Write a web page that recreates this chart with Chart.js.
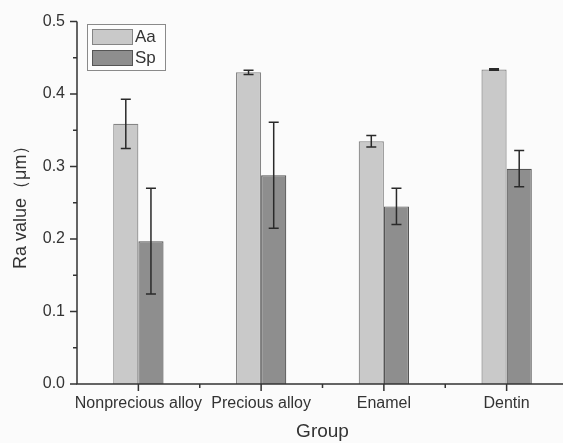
<!DOCTYPE html>
<html>
<head>
<meta charset="utf-8">
<script src="https://cdn.jsdelivr.net/npm/chart.js@4"></script>
<style>
html,body{margin:0;padding:0;background:#fbfbfb;overflow:hidden;}
#wrap{position:relative;width:570px;height:443px;}
</style>
</head>
<body>
<div id="wrap"><canvas id="c" width="570" height="443"></canvas></div>
<script>
const categories = ["Nonprecious alloy", "Precious alloy", "Enamel", "Dentin"];
const seriesNames = ["Aa", "Sp"];
const aaValues = [0.359, 0.430, 0.335, 0.434];
const aaErrors = [0.034, 0.003, 0.008, 0.001];
const spValues = [0.197, 0.288, 0.245, 0.297];
const spErrors = [0.073, 0.073, 0.025, 0.025];
const yTicks = [0.0, 0.1, 0.2, 0.3, 0.4, 0.5];

const axisColor = '#333333';
const fontFam = '"Liberation Sans", Arial, sans-serif';

const errorBarPlugin = {
  id: 'errorBars',
  afterDatasetsDraw(chart) {
    const ctx = chart.ctx;
    const y = chart.scales.y;
    ctx.save();
    ctx.strokeStyle = '#2a2a2a';
    ctx.lineWidth = 1.5;
    chart.data.datasets.forEach((ds, di) => {
      const meta = chart.getDatasetMeta(di);
      meta.data.forEach((bar, i) => {
        const v = ds.data[i], e = ds.errors[i];
        const x = bar.x;
        const yt = y.getPixelForValue(v + e);
        const yb = y.getPixelForValue(v - e);
        ctx.beginPath();
        ctx.moveTo(x, yt); ctx.lineTo(x, yb);
        ctx.moveTo(x - 5, yt); ctx.lineTo(x + 5, yt);
        ctx.moveTo(x - 5, yb); ctx.lineTo(x + 5, yb);
        ctx.stroke();
      });
    });
    ctx.restore();
  }
};

const axesPlugin = {
  id: 'axesTicks',
  afterDraw(chart) {
    const ctx = chart.ctx;
    const ys = chart.scales.y, xs = chart.scales.x;
    const area = chart.chartArea;
    ctx.save();
    ctx.strokeStyle = axisColor;
    ctx.lineWidth = 1.5;
    ctx.beginPath();
    ctx.moveTo(area.left, ys.getPixelForValue(0.5));
    ctx.lineTo(area.left, ys.getPixelForValue(0));
    ctx.lineTo(chart.width, ys.getPixelForValue(0));
    ctx.stroke();
    ctx.beginPath();
    for (let i = 0; i < yTicks.length; i++) {
      const p = ys.getPixelForValue(yTicks[i]);
      ctx.moveTo(area.left - 7, p); ctx.lineTo(area.left, p);
      if (i < yTicks.length - 1) {
        const m = ys.getPixelForValue((yTicks[i] + yTicks[i + 1]) / 2);
        ctx.moveTo(area.left - 4, m); ctx.lineTo(area.left, m);
      }
    }
    const yb = ys.getPixelForValue(0);
    for (let i = 0; i < categories.length; i++) {
      const p = xs.getPixelForValue(i);
      ctx.moveTo(p, yb); ctx.lineTo(p, yb + 7);
      const m = xs.getPixelForValue(i + 0.5);
      ctx.moveTo(m, yb); ctx.lineTo(m, yb + 4);
    }
    ctx.stroke();
    // legend
    const lx = 87, ly = 24, lw = 78, lh = 46;
    ctx.fillStyle = '#fdfdfd';
    ctx.fillRect(lx, ly, lw, lh);
    ctx.strokeStyle = '#8a8a8a';
    ctx.lineWidth = 1;
    ctx.strokeRect(lx + 0.5, ly + 0.5, lw, lh);
    chart.data.datasets.forEach((ds, di) => {
      const sy = ly + 5 + di * 21;
      ctx.fillStyle = ds.backgroundColor;
      ctx.fillRect(lx + 5, sy, 40, 15);
      ctx.strokeStyle = ds.borderColor;
      ctx.strokeRect(lx + 5.5, sy + 0.5, 40, 15);
      ctx.fillStyle = '#333';
      ctx.font = '17px ' + fontFam;
      ctx.textBaseline = 'middle';
      ctx.textAlign = 'left';
      ctx.fillText(ds.label, lx + 48, sy + 8);
    });
    ctx.restore();
  }
};

new Chart(document.getElementById('c'), {
  type: 'bar',
  data: {
    labels: categories,
    datasets: [
      { label: seriesNames[0], data: aaValues, errors: aaErrors,
        backgroundColor: '#c9c9c9', borderColor: '#858585', borderWidth: 1.2 },
      { label: seriesNames[1], data: spValues, errors: spErrors,
        backgroundColor: '#8e8e8e', borderColor: '#555555', borderWidth: 1.2 }
    ]
  },
  options: {
    responsive: false,
    animation: false,
    devicePixelRatio: 1,
    layout: { padding: { top: 21, right: 2, left: 0, bottom: 0 } },
    datasets: { bar: { categoryPercentage: 0.41, barPercentage: 1.0 } },
    plugins: { legend: { display: false }, tooltip: { enabled: false } },
    scales: {
      x: {
        grid: { display: false, drawTicks: false },
        border: { display: false },
        ticks: { color: '#333', padding: 10, font: { size: 16, family: fontFam }, maxRotation: 0, autoSkip: false },
        title: { display: true, text: 'Group', color: '#333', font: { size: 19, family: fontFam }, padding: { top: 2, bottom: 0 } },
        afterFit(s) { s.height = 59; }
      },
      y: {
        min: 0, max: 0.5,
        afterBuildTicks(s) { s.ticks = yTicks.map(v => ({ value: v })); },
        grid: { display: false, drawTicks: false },
        border: { display: false },
        ticks: { color: '#333', padding: 12, font: { size: 16, family: fontFam },
          callback: v => Number(v).toFixed(1) },
        title: { display: true, text: 'Ra value（μm）', color: '#333', font: { size: 18, family: fontFam }, padding: { top: 10, bottom: 0 } },
        afterFit(s) { s.width = 77; }
      }
    }
  },
  plugins: [errorBarPlugin, axesPlugin]
});
</script>
</body>
</html>
